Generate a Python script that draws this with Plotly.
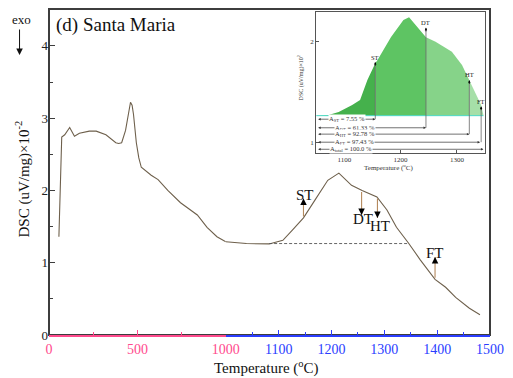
import plotly.graph_objects as go

# ---------------- data ----------------
# main DSC curve, low-temperature part (0-1000 °C, pink axis)
T_low = [56, 72, 89, 117, 144, 172, 228, 267, 322, 378, 394, 411, 433, 450, 461, 470,
         478, 494, 508, 522, 578, 617, 672, 744, 839, 894, 950, 1000]
V_low = [1.36, 2.74, 2.77, 2.87, 2.75, 2.79, 2.82, 2.82, 2.77, 2.66, 2.65, 2.66, 2.83, 3.11,
         3.22, 3.18, 3.05, 2.66, 2.45, 2.32, 2.21, 2.15, 2.00, 1.83, 1.66, 1.49, 1.36, 1.29]
# high-temperature part (1000-1500 °C, blue axis)
T_high = [1000, 1039, 1082, 1108, 1126, 1147, 1169, 1193, 1214, 1238, 1258, 1286, 1305,
          1323, 1346, 1368, 1396, 1416, 1435, 1448, 1461, 1481]
V_high = [1.29, 1.265, 1.26, 1.31, 1.45, 1.62, 1.87, 2.14, 2.24, 2.07, 2.00, 1.91, 1.73,
          1.49, 1.27, 1.04, 0.77, 0.66, 0.52, 0.44, 0.37, 0.28]
baseline_T = [1082, 1346]
baseline_V = [1.265, 1.265]

# characteristic temperatures on the main curve
events = ["ST", "DT", "HT", "FT"]
event_T = [1147, 1257, 1287, 1396]
event_curve = [1.62, 2.00, 1.91, 0.77]
event_head = [1.89, 1.66, 1.62, 1.08]
label_T = [1150, 1260, 1292, 1396]
label_V = [1.94, 1.60, 1.51, 1.13]

# inset curve
inset_T = [1050, 1072, 1090, 1114, 1128, 1141, 1155, 1159, 1183, 1205, 1215, 1245, 1262,
           1291, 1309, 1322, 1326, 1343, 1347]
inset_V = [1.27, 1.277, 1.307, 1.376, 1.426, 1.624, 1.79, 1.822, 2.05, 2.218, 2.245, 2.047,
           2.003, 1.904, 1.772, 1.62, 1.574, 1.376, 1.277]
inset_base = 1.27
inset_event_T = [1155, 1245, 1322, 1343]
inset_head = [1.80, 2.14, 1.62, 1.36]
inset_label_V = [1.85, 2.19, 1.68, 1.41]
area_names = ["A<sub>ST</sub> = 7.55 %", "A<sub>DT</sub> = 61.33 %", "A<sub>HT</sub> = 92.78 %",
              "A<sub>FT</sub> = 97.43 %", "A<sub>total</sub> = 100.0 %"]
area_V = [1.235, 1.15, 1.087, 1.007, 0.937]
area_end = [1155, 1245, 1322, 1341, 1347]
area_text_T = [1071, 1081, 1081, 1081, 1072]

# ---------------- style ----------------
FONT = "Liberation Serif"
PINK = "#ff4a8d"
BLUE = "#2b3dff"
CURVE = "#6e604c"
AXIS = "#3d3d3d"

fig = go.Figure()

fig.add_trace(go.Scatter(x=T_low, y=V_low, mode="lines", line=dict(color=CURVE, width=1.1),
                         xaxis="x", yaxis="y", hoverinfo="skip"))
fig.add_trace(go.Scatter(x=T_high, y=V_high, mode="lines", line=dict(color=CURVE, width=1.1),
                         xaxis="x2", yaxis="y", hoverinfo="skip"))
fig.add_trace(go.Scatter(x=baseline_T, y=baseline_V, mode="lines",
                         line=dict(color="#555555", width=0.9, dash="3px,2px"),
                         xaxis="x2", yaxis="y", hoverinfo="skip"))

ann = []
for name, t, c, h, lt, lv in zip(events, event_T, event_curve, event_head, label_T, label_V):
    # tan shaft
    ann.append(dict(x=t, y=h, ax=t, ay=c, xref="x2", yref="y", axref="x2", ayref="y",
                    text="", showarrow=True, arrowhead=0, arrowwidth=1.1, arrowcolor="#b58a5e"))
    # black arrow head
    d = 0.08 if h > c else -0.08
    ann.append(dict(x=t, y=h, ax=t, ay=h - d, xref="x2", yref="y", axref="x2", ayref="y",
                    text="", showarrow=True, arrowhead=2, arrowsize=1.3, arrowwidth=1,
                    arrowcolor="black"))
    ann.append(dict(x=lt, y=lv, xref="x2", yref="y", text=name, showarrow=False,
                    font=dict(family=FONT, size=15, color="#111"),
                    xanchor="center", yanchor="middle"))

# ---------------- inset ----------------
segments = [(1050, 1155, "#45b14c"), (1155, 1245, "#5ec463"), (1245, 1322, "#86d389"),
            (1322, 1347, "#a6dfa8")]
for a, b, col in segments:
    xs = [t for t in inset_T if a <= t <= b]
    ys = [v for t, v in zip(inset_T, inset_V) if a <= t <= b]
    fig.add_trace(go.Scatter(x=[a] + xs + [b], y=[inset_base] + ys + [inset_base],
                             mode="lines", fill="toself", fillcolor=col,
                             line=dict(width=0, color=col), xaxis="x3", yaxis="y3",
                             hoverinfo="skip"))
fig.add_trace(go.Scatter(x=[1050, 1347], y=[inset_base, inset_base], mode="lines",
                         line=dict(color="#4dd9c8", width=1), xaxis="x3", yaxis="y3",
                         hoverinfo="skip"))
for t, h, av in zip(inset_event_T, inset_head, area_V[:4]):
    fig.add_trace(go.Scatter(x=[t, t], y=[h, av], mode="lines",
                             line=dict(color="#666666", width=0.8), xaxis="x3", yaxis="y3",
                             hoverinfo="skip"))
for name, t, h, lv in zip(events, inset_event_T, inset_head, inset_label_V):
    ann.append(dict(x=t, y=h, ax=t, ay=h - 0.05, xref="x3", yref="y3", axref="x3", ayref="y3",
                    text="", showarrow=True, arrowhead=2, arrowsize=0.6, arrowwidth=0.8,
                    arrowcolor="black"))
    ann.append(dict(x=t, y=lv, xref="x3", yref="y3", text=name, showarrow=False,
                    font=dict(family=FONT, size=6.5, color="#222"), xanchor="center",
                    yanchor="middle"))
for name, v, e, tt in zip(area_names, area_V, area_end, area_text_T):
    ann.append(dict(x=e, y=v, ax=1051, ay=v, xref="x3", yref="y3", axref="x3", ayref="y3",
                    text="", showarrow=True, arrowhead=2, arrowside="end+start",
                    arrowsize=0.7, arrowwidth=0.7, arrowcolor="#333"))
    ann.append(dict(x=tt, y=v, xref="x3", yref="y3", text=name, showarrow=False,
                    xanchor="left", yanchor="middle", bgcolor="white", borderpad=0,
                    font=dict(family=FONT, size=6.5, color="#333")))

# inset titles
ann.append(dict(x=(395 - 49) / 449, y=(335 - 167) / 326, xref="paper", yref="paper",
                text="Temperature (<sup>o</sup>C)", showarrow=False,
                xanchor="center", yanchor="middle",
                font=dict(family=FONT, size=7, color="#333")))
ann.append(dict(x=(305 - 49) / 449, y=(335 - 78) / 326, xref="paper", yref="paper",
                text="DSC (uV/mg)×10<sup>2</sup>", showarrow=False, textangle=-90,
                xanchor="center", yanchor="middle",
                font=dict(family=FONT, size=6, color="#333")))

# main texts
ann.append(dict(x=(54 - 49) / 449, y=(335 - 25) / 326, xref="paper", yref="paper",
                text="(d) Santa Maria", showarrow=False, xanchor="left", yanchor="middle",
                font=dict(family=FONT, size=19, color="#111")))
ann.append(dict(x=(21 - 49) / 449, y=(335 - 19) / 326, xref="paper", yref="paper",
                text="exo", showarrow=False, xanchor="center", yanchor="middle",
                font=dict(family=FONT, size=13, color="#111")))
ann.append(dict(x=(19 - 49) / 449, y=(335 - 55) / 326, ax=0, ay=-27,
                xref="paper", yref="paper", axref="pixel", ayref="pixel", text="",
                showarrow=True, arrowhead=2, arrowsize=1.3, arrowwidth=1, arrowcolor="#111"))
ann.append(dict(x=(22 - 49) / 449, y=(335 - 179) / 326, xref="paper", yref="paper",
                text="DSC (uV/mg)×10<sup>-2</sup>", showarrow=False, textangle=-90,
                xanchor="center", yanchor="middle",
                font=dict(family=FONT, size=15, color="#111")))
ann.append(dict(x=(270 - 49) / 449, y=(335 - 367) / 326, xref="paper", yref="paper",
                text="Temperature (<sup>o</sup>C)", showarrow=False,
                xanchor="center", yanchor="middle",
                font=dict(family=FONT, size=15, color="#111")))

split = 180 / 449
ix0, ix1 = (321 - 49) / 449, (493 - 49) / 449
iy0, iy1 = (335 - 153) / 326, (335 - 12) / 326

fig.update_layout(
    width=513, height=378,
    margin=dict(l=49, r=15, t=9, b=43),
    paper_bgcolor="white", plot_bgcolor="white",
    showlegend=False,
    annotations=ann,
    xaxis=dict(domain=[0, split], range=[0, 1000], anchor="y",
               tickvals=[0, 500, 1000], ticks="inside", ticklen=5, tickwidth=1.2,
               tickcolor=PINK, showline=True, linecolor=PINK, linewidth=1.6,
               showgrid=False, zeroline=False,
               tickfont=dict(family=FONT, size=14, color=PINK),
               minor=dict(tickvals=[250, 750], ticks="inside", ticklen=3, tickcolor=PINK)),
    xaxis2=dict(domain=[split, 1], range=[1000, 1500], anchor="y",
                tickvals=[1100, 1200, 1300, 1400, 1500], ticks="inside", ticklen=5,
                tickwidth=1.2, tickcolor=BLUE, showline=True, linecolor=BLUE, linewidth=1.6,
                showgrid=False, zeroline=False,
                tickfont=dict(family=FONT, size=14, color=BLUE),
                minor=dict(tickvals=[1050, 1150, 1250, 1350, 1450], ticks="inside",
                           ticklen=3, tickcolor=BLUE)),
    yaxis=dict(range=[0, 4.51], anchor="x", tickvals=[0, 1, 2, 3, 4], ticks="inside",
               ticklen=6, tickwidth=1.4, tickcolor=AXIS, showline=False, showgrid=False,
               zeroline=False, tickfont=dict(family=FONT, size=13, color="#222"),
               minor=dict(tickvals=[0.5, 1.5, 2.5, 3.5], ticks="inside", ticklen=4,
                          tickcolor=AXIS)),
    xaxis3=dict(domain=[ix0, ix1], range=[1050, 1350], anchor="y3",
                tickvals=[1100, 1200, 1300], ticks="inside", ticklen=3, tickcolor="#555",
                showline=True, mirror=True, linecolor="#555", linewidth=1,
                showgrid=False, zeroline=False,
                tickfont=dict(family=FONT, size=7, color="#333")),
    yaxis3=dict(domain=[iy0, iy1], range=[0.9, 2.297], anchor="x3",
                tickvals=[1, 2], ticks="inside", ticklen=3, tickcolor="#555",
                showline=True, mirror=True, linecolor="#555", linewidth=1,
                showgrid=False, zeroline=False,
                tickfont=dict(family=FONT, size=7, color="#333")),
    shapes=[dict(type="rect", xref="paper", yref="paper", x0=0, x1=1, y0=0, y1=1,
                 line=dict(color=AXIS, width=2), layer="below")],
)

fig.write_html("out.html")
